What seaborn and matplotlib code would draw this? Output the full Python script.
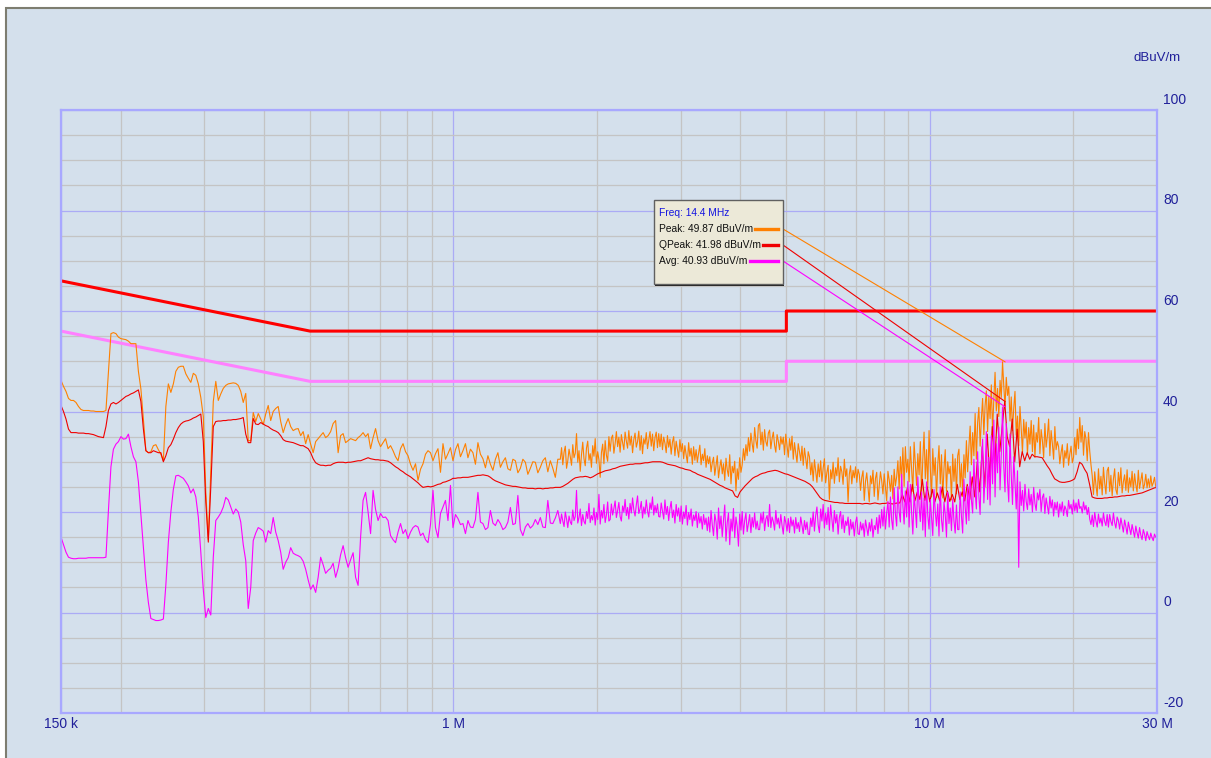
import numpy as np
import pandas as pd
import matplotlib
matplotlib.use("Agg")
import matplotlib.pyplot as plt
import seaborn as sns
from matplotlib import font_manager as fm
from matplotlib.patches import Rectangle
from matplotlib.lines import Line2D
from matplotlib.transforms import ScaledTranslation, blended_transform_factory
from matplotlib.ticker import FixedLocator, NullFormatter

# ---------------- data ----------------
# receiver sweep: coarse log grid below ~1.7 MHz, finer log grid above
SWEEP_START_MHZ = 0.15
SWEEP_STOP_MHZ = 30.0
COARSE_POINTS = 440
COARSE_USED = 200

PEAK_LO = [
    46.2, 45.0, 44.0, 42.6, 42.2, 42.2, 41.8, 41.0, 40.4, 40.2, 40.2, 40.2, 40.1, 40.1, 40.0, 40.0, 40.0, 40.0, 40.2, 48.0,
    55.5, 55.7, 55.5, 54.8, 54.5, 54.4, 54.3, 54.0, 53.5, 53.5, 53.5, 48.0, 44.5, 38.5, 32.2, 31.8, 32.0, 33.2, 33.4, 32.4,
    31.5, 30.2, 41.0, 45.5, 43.8, 45.5, 48.0, 48.8, 49.0, 49.0, 47.5, 46.6, 45.8, 47.6, 47.2, 45.5, 42.8, 39.0, 24.0, 14.5,
    28.0, 42.0, 46.0, 42.2, 43.5, 44.6, 45.2, 45.5, 45.6, 45.7, 45.6, 45.2, 44.0, 41.8, 43.6, 34.2, 34.2, 39.8, 38.0, 39.6,
    38.5, 37.4, 39.5, 41.2, 38.2, 40.0, 40.6, 41.0, 38.0, 35.8, 37.4, 38.6, 37.0, 36.2, 36.5, 36.6, 35.2, 36.0, 33.6, 35.4,
    33.5, 31.8, 34.0, 34.6, 35.2, 35.8, 34.8, 35.2, 36.0, 37.6, 38.2, 31.8, 35.2, 35.6, 33.8, 34.2, 34.6, 34.4, 34.2, 34.8,
    35.2, 35.8, 35.0, 35.6, 32.6, 34.8, 36.6, 34.2, 33.0, 33.8, 34.6, 32.6, 33.2, 32.2, 31.0, 30.2, 32.6, 33.6, 32.0, 31.2,
    29.5, 28.3, 29.6, 26.3, 28.5, 29.6, 31.5, 32.2, 31.8, 30.2, 31.6, 32.6, 27.9, 33.6, 30.5, 31.6, 32.8, 30.2, 32.4, 33.6,
    31.0, 32.2, 33.6, 30.8, 32.5, 31.8, 29.5, 33.8, 31.5, 30.6, 28.8, 31.2, 29.5, 28.3, 30.5, 31.8, 28.9, 30.0, 30.8, 28.6,
    28.3, 30.5, 30.2, 27.8, 28.7, 30.5, 29.9, 27.5, 28.7, 30.0, 29.9, 27.8, 28.9, 30.2, 30.8, 28.0, 30.2, 28.7, 26.9, 30.5,
]
PEAK_HI = [
    30.5, 32.8, 29.4, 31.9, 33.1, 28.7, 30.2, 32.5, 31.0, 29.3, 33.4, 30.8, 31.7, 35.6, 29.9, 32.2, 28.1, 31.4, 33.9, 30.6,
    29.2, 32.7, 34.1, 30.3, 31.6, 28.9, 33.2, 31.1, 34.6, 29.7, 32.0, 30.4, 26.9, 31.8, 33.5, 29.6, 34.2, 31.3, 30.1, 35.0,
    32.1, 34.7, 35.3, 31.7, 33.6, 36.0, 33.0, 34.9, 31.9, 35.4, 33.8, 32.4, 35.9, 34.1, 32.7, 36.2, 33.3, 35.1, 31.8, 34.4,
    35.7, 32.9, 34.0, 36.1, 32.3, 35.2, 31.6, 34.6, 33.5, 35.8, 32.6, 34.3, 36.0, 33.1, 35.5, 32.2, 34.8, 35.9, 32.8, 35.6,
    33.0, 35.5, 32.4, 34.9, 33.7, 31.8, 35.2, 32.9, 34.5, 31.5, 33.9, 35.0, 31.2, 34.1, 32.5, 30.9, 34.4, 32.0, 33.6, 30.6,
    33.2, 31.4, 29.8, 33.8, 31.1, 32.7, 29.5, 33.0, 30.3, 32.4, 29.9, 31.7, 33.3, 29.4, 31.5, 30.2, 32.6, 28.9, 31.2, 29.6,
    31.0, 28.0, 29.8, 30.9, 27.3, 29.2, 31.2, 26.8, 28.9, 30.4, 27.6, 29.6, 26.3, 30.7, 28.4, 27.1, 31.4, 25.6, 29.1, 27.8,
    30.1, 24.2, 28.6, 26.5, 30.8, 27.9, 29.4, 32.6, 30.3, 33.4, 31.2, 34.8, 32.1, 35.7, 33.6, 31.9, 36.8, 34.2, 32.7, 37.2,
    37.6, 33.4, 35.9, 32.3, 36.4, 34.0, 33.1, 35.7, 36.3, 32.6, 34.6, 35.9, 33.3, 31.9, 35.4, 34.1, 32.4, 35.0, 33.5, 34.9,
    31.4, 35.5, 33.2, 30.9, 34.6, 32.3, 35.1, 30.5, 33.8, 31.7, 29.9, 33.6, 32.0, 30.2, 33.1, 29.3, 32.7, 30.6, 28.6, 32.0,
    31.0, 27.4, 29.8, 26.2, 30.4, 28.1, 25.9, 29.6, 27.0, 30.2, 26.1, 28.7, 30.6, 25.8, 27.9, 29.3, 22.5, 28.4, 26.6, 29.9,
    25.7, 28.8, 27.2, 30.8, 26.0, 29.1, 28.0, 25.5, 30.5, 27.1, 28.6, 22.0, 27.5, 29.2, 25.6, 28.3, 26.8, 29.0, 25.9, 28.5,
    27.5, 24.3, 26.9, 28.2, 22.3, 26.1, 27.8, 24.9, 22.0, 27.2, 25.6, 28.3, 23.1, 26.7, 27.9, 22.4, 25.3, 28.0, 26.2, 23.6,
    27.6, 25.0, 22.2, 28.1, 26.4, 24.1, 27.3, 22.6, 28.5, 25.2, 27.0, 30.2, 24.6, 31.0, 26.3, 32.8, 25.1, 33.0, 27.9, 30.5,
    26.0, 33.0, 28.4, 24.1, 33.9, 29.5, 25.3, 31.6, 27.4, 34.0, 23.3, 30.5, 35.9, 26.6, 32.4, 24.8, 36.2, 28.9, 23.0, 32.6,
    27.3, 30.8, 22.9, 29.4, 33.2, 25.6, 31.4, 22.8, 28.7, 32.4, 24.2, 30.0, 27.6, 29.1, 22.4, 31.5, 26.1, 30.6, 23.6, 31.2,
    32.5, 25.0, 29.6, 23.1, 31.4, 26.8, 34.2, 28.0, 33.0, 37.1, 29.4, 35.8, 31.2, 39.6, 30.5, 37.8, 40.8, 33.1, 38.4, 42.6,
    35.4, 41.2, 44.1, 36.0, 43.0, 38.6, 45.3, 35.9, 42.4, 47.8, 40.1, 44.6, 39.0, 46.2, 42.8, 49.9, 45.1, 41.0, 46.8, 43.2,
    45.0, 38.1, 42.9, 36.2, 40.7, 44.0, 35.3, 39.1, 33.2, 41.0, 36.6, 31.8, 38.4, 34.7, 37.9, 31.4, 36.8, 33.5, 38.2, 32.0,
    37.3, 30.9, 35.8, 33.9, 38.8, 31.6, 36.4, 34.2, 30.8, 37.6, 32.9, 35.1, 38.5, 31.2, 36.2, 33.6, 30.5, 37.0, 32.4, 34.0,
    33.0, 29.6, 31.8, 33.4, 28.9, 32.2, 30.7, 33.6, 29.3, 31.5, 33.1, 29.8, 30.9, 34.8, 31.4, 36.5, 32.6, 38.8, 33.9, 37.2,
    31.3, 36.0, 34.5, 30.2, 35.8, 32.1, 29.4, 27.2, 23.5, 28.0, 25.3, 23.2, 28.6, 24.6, 27.1, 23.4, 28.9, 25.8, 23.6, 28.2,
    28.9, 24.1, 27.3, 23.2, 26.5, 28.6, 24.4, 23.5, 27.9, 25.2, 28.8, 23.8, 26.0, 27.4, 24.3, 28.4, 23.9, 26.8, 25.0, 28.1,
    24.2, 27.6, 25.4, 24.0, 28.3, 24.7, 26.3, 27.8, 24.6, 25.5, 27.5, 24.8, 26.6, 24.9, 27.2, 25.1, 25.8, 26.9, 25.0, 25.2,
]

QPEAK_LO = [
    41.2, 40.0, 38.5, 36.5, 35.8, 35.8, 35.8, 35.7, 35.7, 35.7, 35.6, 35.6, 35.5, 35.4, 35.2, 35.0, 34.9, 34.8, 37.0, 40.2,
    41.5, 41.8, 41.5, 41.8, 42.2, 42.6, 43.0, 43.2, 43.5, 43.7, 44.0, 44.3, 42.0, 36.5, 32.2, 31.8, 31.8, 32.2, 32.0, 31.8,
    31.8, 30.0, 31.2, 32.8, 33.4, 34.5, 35.8, 36.8, 37.5, 37.9, 38.1, 38.2, 38.4, 38.7, 38.9, 39.2, 39.5, 34.0, 22.0, 14.0,
    25.0, 37.0, 38.0, 38.1, 38.1, 38.2, 38.2, 38.3, 38.3, 38.4, 38.4, 38.5, 38.6, 38.8, 35.5, 33.8, 33.8, 38.6, 37.5, 37.4,
    37.8, 37.5, 37.2, 37.0, 36.6, 36.3, 36.1, 35.8, 35.2, 34.4, 34.1, 34.0, 33.9, 33.8, 33.6, 33.4, 33.2, 33.2, 32.9, 32.6,
    31.8, 30.6, 29.8, 29.5, 29.3, 29.3, 29.2, 29.3, 29.3, 29.6, 29.8, 29.9, 29.9, 29.9, 29.8, 29.9, 29.9, 30.0, 30.1, 30.2,
    30.2, 30.4, 30.6, 30.8, 30.6, 30.5, 30.4, 30.4, 30.3, 30.3, 30.2, 30.1, 29.8, 29.4, 29.0, 28.7, 28.3, 28.0, 27.6, 27.3,
    27.0, 26.6, 26.2, 25.8, 25.3, 24.9, 25.0, 25.1, 25.0, 25.1, 25.3, 25.5, 25.6, 25.9, 26.0, 26.2, 26.4, 26.7, 26.7, 26.8,
    26.8, 26.9, 26.9, 26.9, 27.0, 27.1, 27.2, 27.3, 27.3, 27.4, 27.3, 27.2, 26.9, 26.5, 26.2, 26.0, 25.8, 25.6, 25.4, 25.3,
    25.2, 25.1, 25.1, 25.0, 24.9, 24.8, 24.8, 24.7, 24.7, 24.7, 24.6, 24.7, 24.7, 24.6, 24.7, 24.7, 24.8, 24.8, 24.9, 24.9,
]
QPEAK_HI = [
    24.9, 25.1, 25.4, 25.7, 26.1, 26.5, 26.8, 26.9, 27.0, 27.0, 27.1, 27.0, 26.8, 27.0, 27.3, 27.6, 27.8, 28.0, 28.2, 28.3,
    28.4, 28.6, 28.7, 28.9, 29.1, 29.2, 29.3, 29.4, 29.5, 29.5, 29.6, 29.6, 29.6, 29.7, 29.8, 29.8, 29.9, 30.0, 30.0, 30.0,
    30.0, 29.9, 29.7, 29.5, 29.4, 29.3, 29.2, 29.0, 28.8, 28.7, 28.5, 28.4, 28.3, 28.0, 27.8, 27.5, 27.3, 27.1, 26.9, 26.7,
    26.5, 26.2, 25.9, 25.6, 25.3, 25.1, 24.8, 24.6, 24.4, 24.2, 23.2, 22.9, 24.0, 24.6, 25.2, 25.7, 26.2, 26.7, 27.0, 27.2,
    27.5, 27.7, 27.8, 28.0, 28.1, 28.2, 28.3, 28.2, 28.0, 27.8, 27.6, 27.5, 27.3, 27.1, 26.9, 26.7, 26.5, 26.3, 26.1, 25.8,
    25.5, 25.0, 24.3, 23.6, 22.9, 22.5, 22.3, 22.2, 22.1, 22.0, 21.9, 21.9, 21.8, 21.8, 21.7, 21.7, 21.7, 21.7, 21.7, 21.7,
    21.7, 21.6, 21.7, 21.7, 21.6, 21.7, 21.8, 21.7, 21.6, 21.7, 21.7, 21.8, 21.7, 21.6, 21.7, 21.8, 21.8, 23.5, 22.0, 24.8,
    22.0, 25.5, 22.2, 24.0, 22.5, 26.5, 22.3, 25.0, 22.0, 24.5, 22.0, 23.8, 22.2, 25.0, 22.0, 24.2, 22.1, 23.5, 22.0, 25.5,
    22.5, 24.0, 22.2, 25.5, 22.5, 27.0, 23.0, 30.0, 24.0, 33.0, 25.0, 35.5, 27.0, 37.0, 29.0, 39.5, 32.0, 37.0, 42.0, 35.0,
    33.0, 38.5, 30.0, 36.5, 29.0, 32.0, 30.2, 31.8, 30.5, 31.5, 31.0, 31.0, 30.9, 30.8, 30.0, 29.2, 28.5, 27.5, 26.6, 26.3,
    26.0, 25.9, 25.9, 26.0, 26.1, 26.3, 26.6, 28.0, 29.9, 29.5, 28.5, 27.7, 25.5, 23.0, 22.8, 22.7, 22.7, 22.7, 22.8, 22.8,
    22.9, 22.9, 23.0, 23.0, 23.1, 23.2, 23.2, 23.3, 23.3, 23.4, 23.5, 23.6, 23.7, 23.8, 24.0, 24.2, 24.4, 24.6, 24.8, 24.9,
]

AVG_LO = [
    15.0, 13.5, 12.0, 11.0, 10.8, 10.7, 10.7, 10.8, 10.8, 10.8, 10.8, 10.9, 10.9, 10.9, 10.9, 10.9, 10.9, 10.9, 11.0, 20.3,
    29.0, 32.5, 33.5, 34.0, 35.0, 34.5, 34.6, 35.5, 33.0, 31.0, 30.0, 26.0, 19.5, 13.0, 6.5, 2.0, -1.2, -1.4, -1.6, -1.6,
    -1.5, -1.3, 5.5, 14.0, 20.0, 24.5, 27.2, 27.3, 27.0, 26.7, 26.0, 25.2, 23.8, 24.6, 23.0, 19.0, 12.0, 4.5, -1.0, 0.8,
    -0.5, 11.0, 18.3, 19.0, 19.8, 21.0, 22.9, 22.4, 21.0, 19.6, 20.6, 20.0, 18.0, 13.5, 10.3, 0.8, 5.0, 14.3, 15.8, 16.9,
    16.6, 16.2, 14.0, 16.3, 15.7, 18.9, 16.0, 14.3, 12.0, 8.6, 10.0, 10.9, 12.9, 11.8, 11.5, 11.3, 11.0, 10.2, 8.6, 6.5,
    4.6, 5.5, 4.0, 7.0, 11.0, 9.5, 7.8, 8.4, 8.8, 9.8, 7.0, 8.8, 11.5, 13.3, 10.9, 9.0, 10.5, 11.9, 7.0, 5.4,
    15.0, 22.3, 23.9, 20.0, 15.7, 24.3, 20.5, 18.3, 19.7, 18.9, 19.0, 18.3, 15.3, 14.5, 13.9, 16.0, 17.7, 15.7, 16.5, 14.7,
    16.0, 16.9, 17.3, 17.0, 15.3, 15.8, 14.5, 13.9, 17.5, 24.3, 16.9, 14.9, 19.7, 21.0, 22.3, 18.3, 25.3, 16.9, 19.5, 18.7,
    17.5, 17.7, 15.7, 18.3, 17.0, 16.9, 18.5, 23.9, 18.0, 17.7, 16.5, 16.9, 20.3, 17.8, 17.3, 18.5, 17.7, 16.5, 16.9, 18.0,
    20.9, 17.5, 17.7, 23.3, 16.5, 15.3, 17.0, 17.7, 16.8, 17.3, 18.5, 17.5, 18.9, 17.0, 16.9, 22.3, 17.8, 17.7, 18.8, 20.3,
]
AVG_HI = [
    17.7, 19.6, 18.2, 17.1, 20.0, 18.6, 16.9, 19.2, 18.0, 17.5, 20.4, 18.3, 19.1, 24.3, 17.8, 18.9, 20.6, 17.3, 19.5, 18.1,
    17.6, 20.1, 18.7, 21.7, 17.9, 19.3, 18.4, 20.8, 17.4, 19.9, 18.5, 23.5, 17.6, 20.3, 18.8, 21.5, 17.9, 19.4, 22.0, 18.2,
    18.5, 21.6, 19.4, 20.7, 22.2, 18.9, 20.3, 21.9, 19.1, 18.2, 21.2, 20.0, 22.5, 19.3, 20.9, 18.6, 21.7, 19.8, 22.8, 20.4,
    19.2, 21.4, 23.2, 19.7, 20.6, 22.1, 18.8, 21.0, 19.6, 22.4, 20.2, 19.0, 21.8, 20.5, 23.0, 19.4, 21.3, 19.9, 21.6, 19.1,
    19.0, 21.8, 20.2, 18.6, 22.4, 19.5, 21.1, 18.3, 20.7, 22.1, 18.9, 20.4, 17.8, 21.5, 19.2, 20.8, 18.1, 21.2, 17.6, 20.0,
    18.7, 21.3, 17.4, 19.9, 18.5, 20.6, 17.2, 19.4, 18.3, 20.1, 16.9, 19.7, 17.8, 19.1, 16.6, 19.5, 17.5, 18.8, 16.3, 19.0,
    16.0, 20.3, 17.4, 15.3, 19.6, 18.1, 14.6, 20.8, 16.7, 19.2, 15.1, 18.4, 21.4, 14.2, 17.9, 19.8, 13.5, 18.6, 16.2, 20.7,
    14.9, 19.0, 17.1, 13.2, 19.6, 16.4, 20.1, 15.6, 18.3, 19.8, 16.1, 17.7, 19.5, 15.9, 18.9, 17.0, 19.8, 16.6, 18.2, 16.5,
    16.5, 19.7, 17.8, 20.0, 16.3, 18.6, 19.3, 17.1, 21.5, 16.9, 19.0, 18.1, 16.4, 20.3, 17.6, 18.8, 16.8, 19.5, 17.3, 15.6,
    19.1, 17.9, 16.2, 18.7, 15.9, 19.0, 17.2, 18.4, 15.8, 18.9, 16.7, 17.9, 16.1, 19.0, 17.4, 15.7, 18.3, 16.5, 18.0, 15.6,
    15.5, 18.8, 17.1, 20.0, 16.2, 19.3, 21.0, 17.4, 15.9, 20.6, 18.2, 21.5, 16.8, 19.7, 17.5, 20.9, 16.4, 21.4, 18.6, 16.1,
    20.3, 17.8, 19.5, 15.6, 18.9, 20.1, 16.7, 19.4, 15.9, 18.2, 17.3, 19.0, 15.4, 18.5, 16.6, 18.0, 15.2, 17.9, 19.0, 15.7,
    15.5, 18.0, 16.4, 17.7, 15.1, 18.4, 16.9, 15.3, 17.9, 16.2, 18.6, 15.0, 17.3, 16.5, 18.9, 15.7, 19.4, 16.8, 20.5, 17.2,
    21.0, 16.6, 19.8, 22.1, 17.0, 23.0, 18.4, 16.5, 24.8, 19.6, 17.2, 25.0, 20.1, 18.0, 27.5, 21.3, 17.6, 24.2, 19.0, 26.1,
    17.0, 25.5, 19.8, 15.6, 23.5, 20.4, 16.9, 27.0, 21.2, 18.1, 24.0, 16.4, 22.8, 15.1, 26.0, 19.3, 16.6, 22.5, 18.9, 15.3,
    24.5, 20.0, 17.2, 21.6, 15.2, 25.0, 18.4, 16.1, 22.0, 19.6, 15.0, 23.9, 17.7, 20.8, 16.3, 22.6, 18.2, 15.8, 21.4, 16.5,
    16.5, 24.0, 19.2, 15.8, 26.5, 21.0, 17.6, 25.1, 18.3, 28.0, 22.4, 19.8, 30.5, 24.1, 20.6, 32.0, 23.2, 19.5, 29.6, 34.5,
    21.8, 27.3, 36.0, 22.5, 30.9, 21.4, 35.2, 25.6, 38.3, 23.0, 33.6, 27.8, 36.9, 24.4, 31.5, 40.9, 29.0, 24.0, 37.6, 26.2,
    22.0, 35.5, 27.4, 21.5, 31.0, 25.8, 20.6, 28.2, 9.0, 26.0, 21.3, 24.3, 20.2, 25.5, 22.1, 20.5, 24.6, 21.4, 23.5, 20.0,
    24.9, 21.7, 20.3, 23.8, 22.4, 24.5, 20.1, 22.9, 23.6, 19.7, 22.8, 21.2, 19.6, 23.1, 20.8, 22.4, 19.2, 21.9, 20.4, 22.0,
    19.0, 21.6, 20.1, 22.0, 19.3, 21.2, 20.5, 19.1, 22.3, 20.6, 21.5, 19.6, 22.4, 20.2, 21.8, 19.9, 22.5, 20.7, 21.1, 19.8,
    22.0, 20.4, 21.3, 19.5, 20.9, 18.6, 17.5, 19.4, 17.1, 19.9, 18.2, 17.0, 19.6, 17.8, 18.8, 17.2, 19.8, 18.1, 17.3, 19.5,
    17.0, 19.5, 18.1, 17.3, 19.8, 17.9, 16.8, 19.0, 18.3, 16.6, 18.8, 17.4, 16.0, 18.4, 17.1, 15.6, 18.0, 16.7, 15.5, 17.5,
    16.3, 15.0, 17.2, 15.9, 14.8, 16.9, 15.4, 14.5, 16.5, 15.6, 14.3, 16.1, 15.2, 14.5, 15.8, 14.9, 14.3, 15.6, 15.0, 14.8,
]

LIMIT_FREQ = [0.15, 0.5, 5.0, 5.0, 30.0]
QP_LIMIT = [66, 56, 56, 60, 60]
AV_LIMIT = [56, 46, 46, 50, 50]

MARKER_FREQ_MHZ = 14.4
MARKER_NAMES = ["Peak", "QPeak", "Avg"]
MARKER_VALUES = [49.87, 41.98, 40.93]

X_TICKS = [0.15, 1, 10, 30]
X_TICK_LABELS = ["150 k", "1 M", "10 M", "30 M"]
X_MINOR = [0.2, 0.3, 0.4, 0.5, 0.6, 0.7, 0.8, 0.9, 2, 3, 4, 5, 6, 7, 8, 9, 20]
Y_TICKS = [-20, 0, 20, 40, 60, 80, 100]
Y_MINOR = [-15, -10, -5, 5, 10, 15, 25, 30, 35, 45, 50, 55, 65, 70, 75, 85, 90, 95]
UNIT = "dBuV/m"

# ---------------- style ----------------
BG = "#D4E0EC"
TXT = "#20209A"
C_PEAK = "#FF8000"
C_QP = "#F00000"
C_AVG = "#FF00FF"
C_QPLIM = "#FF0000"
C_AVLIM = "#FF80FF"

names = {f.name for f in fm.fontManager.ttflist}
FONT = "Liberation Sans Narrow" if "Liberation Sans Narrow" in names else "Liberation Sans"
plt.rcParams["font.family"] = [FONT, "DejaVu Sans"]

W, H = 1211, 758
fig = plt.figure(figsize=(W / 100, H / 100), dpi=100, facecolor="white")


def fx(x):
    return x / W


def fy(y):
    return 1 - y / H


fig.add_artist(Rectangle((fx(6), -0.01), 1.02 - fx(6), fy(8) + 0.01, transform=fig.transFigure,
                         facecolor=BG, edgecolor="#7d7d70", lw=1.5, zorder=-5))

ax = fig.add_axes([fx(61), fy(713), fx(1157) - fx(61), fy(110) - fy(713)])
ax.set_facecolor(BG)
ax.set_xscale("log")
ax.set_xlim(SWEEP_START_MHZ, SWEEP_STOP_MHZ)
ax.set_ylim(-20, 100)
ax.set_axisbelow(True)

# limits
lim_df = pd.concat([
    pd.DataFrame({"freq": LIMIT_FREQ, "level": QP_LIMIT, "line": "QP limit"}),
    pd.DataFrame({"freq": LIMIT_FREQ, "level": AV_LIMIT, "line": "AV limit"}),
])
sns.lineplot(data=lim_df, x="freq", y="level", hue="line", palette={"QP limit": C_QPLIM, "AV limit": C_AVLIM},
             estimator=None, sort=False, lw=2.2, legend=False, ax=ax)

# traces
coarse = np.geomspace(SWEEP_START_MHZ, SWEEP_STOP_MHZ, COARSE_POINTS)


def sweep_freqs(lo, hi):
    f_lo = coarse[:len(lo)]
    f_hi = np.geomspace(coarse[COARSE_USED], SWEEP_STOP_MHZ, len(hi))
    return np.concatenate([f_lo, f_hi])


tr_df = pd.concat([
    pd.DataFrame({"freq": sweep_freqs(lo, hi), "level": lo + hi, "trace": n})
    for n, lo, hi in (("Peak", PEAK_LO, PEAK_HI), ("QPeak", QPEAK_LO, QPEAK_HI), ("Avg", AVG_LO, AVG_HI))
])
sns.lineplot(data=tr_df, x="freq", y="level", hue="trace",
             palette={"Peak": C_PEAK, "QPeak": C_QP, "Avg": C_AVG},
             hue_order=["Peak", "QPeak", "Avg"],
             estimator=None, sort=False, lw=0.8, legend=False, ax=ax)

# axes styling
ax.xaxis.set_major_locator(FixedLocator(X_TICKS))
ax.xaxis.set_minor_locator(FixedLocator(X_MINOR))
ax.xaxis.set_minor_formatter(NullFormatter())
ax.set_xticklabels(X_TICK_LABELS)
ax.yaxis.set_major_locator(FixedLocator(Y_TICKS))
ax.yaxis.set_minor_locator(FixedLocator(Y_MINOR))
ax.yaxis.set_minor_formatter(NullFormatter())
ax.grid(which="major", color="#ABABF5", lw=0.9)
ax.grid(which="minor", color="#C4C4C4", lw=0.9)
ax.tick_params(which="both", length=0)
ax.tick_params(axis="x", pad=3, labelsize=10, labelcolor=TXT)
ax.tick_params(axis="y", labelleft=False, labelright=False)
ax.set_xlabel("")
ax.set_ylabel("")
for s in ax.spines.values():
    s.set_color("#A8A8FF")
    s.set_linewidth(1.6)

ytrans = blended_transform_factory(ax.transAxes, ax.transData) + ScaledTranslation(6 / 100, 10 / 100, fig.dpi_scale_trans)
for v in Y_TICKS:
    ax.text(1.0, v, f"{v}", transform=ytrans, ha="left", va="center", fontsize=10, color=TXT, clip_on=False)
fig.text(fx(1157), fy(58), UNIT, ha="center", va="center", fontsize=9.5, color=TXT)

# marker box
bx0, by0, bx1, by1 = 654, 200, 783, 284
fig.add_artist(Rectangle((fx(bx0 + 1.5), fy(by1 + 1.5)), fx(bx1 - bx0), fy(by0) - fy(by1), transform=fig.transFigure,
                         facecolor="#202020", edgecolor="none", zorder=5))
fig.add_artist(Rectangle((fx(bx0), fy(by1)), fx(bx1 - bx0), fy(by0) - fy(by1), transform=fig.transFigure,
                         facecolor="#ECE9D8", edgecolor="#606060", lw=1.0, zorder=6))
fig.text(fx(659), fy(213), f"Freq: {MARKER_FREQ_MHZ} MHz", ha="left", va="center", fontsize=7.4, color="#1515E0", zorder=7)
row_y = [229, 245, 261]
samp_x0 = [755, 763, 750]
colors = [C_PEAK, C_QP, C_AVG]
for name, val, yy, sx, c in zip(MARKER_NAMES, MARKER_VALUES, row_y, samp_x0, colors):
    fig.text(fx(659), fy(yy), f"{name}: {val:.2f} {UNIT}", ha="left", va="center", fontsize=7.4, color="#101010", zorder=7)
    fig.add_artist(Line2D([fx(sx), fx(778)], [fy(yy), fy(yy)], transform=fig.transFigure, color=c, lw=2.4, zorder=7))
    ax.annotate("", xy=(MARKER_FREQ_MHZ, val), xycoords="data",
                xytext=(fx(783), fy(yy)), textcoords="figure fraction",
                arrowprops=dict(arrowstyle="-", color=c, lw=0.8, shrinkA=0, shrinkB=0),
                annotation_clip=False, zorder=8)

fig.savefig("out.png", dpi=100, facecolor=fig.get_facecolor())
